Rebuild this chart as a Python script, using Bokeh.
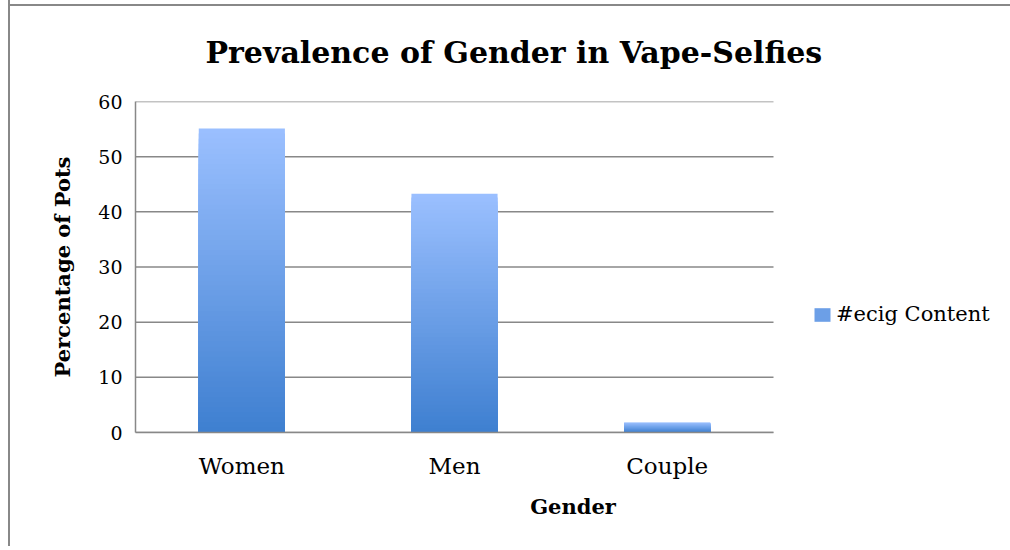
from bokeh.plotting import figure
from bokeh.models import ColumnDataSource, Legend, LegendItem, Range1d, FixedTicker
from bokeh.embed import file_html
from bokeh.resources import INLINE

# ---- data ----
categories = ["Women", "Men", "Couple"]
ecig_content = [55.1, 43.3, 1.8]
y_ticks = [0, 10, 20, 30, 40, 50, 60]
series_name = "#ecig Content"
title_text = "Prevalence of Gender in Vape-Selfies"
x_title = "Gender"
y_title = "Percentage of Pots"

SERIF = "DejaVu Serif"
GRID = "#888888"
TOP_RGB = (155, 192, 255)
BOT_RGB = (62, 127, 208)

def mix(t):
    r = [round(b + (a - b) * t) for a, b in zip(TOP_RGB, BOT_RGB)]
    return "#%02x%02x%02x" % tuple(r)

n_cat = len(categories)
xpos = [i + 0.5 for i in range(n_cat)]          # category centres
PLOT_W = 638                                     # px for the category area
FRAME_W = 875                                    # frame extends under the legend
x_end = n_cat * FRAME_W / PLOT_W

# gradient bars: nested segments from 0 up to fractions of each value
N = 60
xs, tops, colors = [], [], []
for i in range(N - 1, -1, -1):
    frac = (i + 1) / N
    col = mix((i + 0.5) / N)
    for x, v in zip(xpos, ecig_content):
        xs.append(x)
        tops.append(v * frac)
        colors.append(col)
src = ColumnDataSource(dict(x=xs, top=tops, color=colors))

p = figure(x_range=Range1d(0, x_end), y_range=Range1d(0, 60),
           frame_width=FRAME_W, frame_height=331,
           output_backend="svg", toolbar_location=None,
           min_border_left=125, min_border_right=0,
           min_border_top=101, min_border_bottom=114)
# outer chart border: left edge and a top line 4px below the page top
p.styles = {"margin-left": "8px",
            "border-left": "2px solid #888888",
            "background": "linear-gradient(#888888, #888888) 0 4px / 100% 2px no-repeat, white"}
p.border_fill_color = None
p.outline_line_color = None
p.background_fill_color = "white"
p.xgrid.visible = False
p.ygrid.visible = False

# horizontal gridlines across the category area only
p.segment(x0=0, x1=n_cat, y0=y_ticks, y1=y_ticks,
          line_color=GRID, line_width=1.5)

r = p.vbar(x="x", top="top", bottom=0, width=0.405, source=src,
           fill_color="color", line_color=None)

# title
p.title.text = title_text
p.title.text_font = SERIF
p.title.text_font_style = "bold"
p.title.text_font_size = "30px"
p.title.align = "left"
p.title.offset = 70
p.title.standoff = 64
p.title.text_color = "black"

# axes
p.yaxis.ticker = FixedTicker(ticks=y_ticks)
p.yaxis.bounds = (0, 60)
p.yaxis.axis_line_color = GRID
p.yaxis.axis_line_width = 1.5
p.yaxis.major_tick_line_color = None
p.yaxis.minor_tick_line_color = None
p.yaxis.major_label_standoff = 7
p.yaxis.major_label_text_font = SERIF
p.yaxis.major_label_text_font_size = "19px"
p.yaxis.major_label_text_color = "black"
p.yaxis.axis_label = y_title
p.yaxis.axis_label_text_font = SERIF
p.yaxis.axis_label_text_font_style = "bold"
p.yaxis.axis_label_text_font_size = "21px"
p.yaxis.axis_label_text_color = "black"
p.yaxis.axis_label_standoff = 20

p.xaxis.ticker = FixedTicker(ticks=xpos)
p.xaxis.major_label_overrides = {x: c for x, c in zip(xpos, categories)}
p.xaxis.bounds = (0, n_cat)
p.xaxis.axis_line_color = GRID
p.xaxis.axis_line_width = 1.5
p.xaxis.major_tick_line_color = None
p.xaxis.minor_tick_line_color = None
p.xaxis.major_label_standoff = 14
p.xaxis.major_label_text_font = SERIF
p.xaxis.major_label_text_font_size = "23px"
p.xaxis.major_label_text_color = "black"
p.xaxis.axis_label = x_title
p.xaxis.axis_label_text_font = SERIF
p.xaxis.axis_label_text_font_style = "bold"
p.xaxis.axis_label_text_font_size = "21px"
p.xaxis.axis_label_text_color = "black"
p.xaxis.axis_label_standoff = 12

legend = Legend(items=[LegendItem(label=series_name, renderers=[r], index=N // 2 * 3)],
                location=(677, 106), padding=0, margin=0,
                border_line_color=None, background_fill_alpha=0,
                glyph_width=20, glyph_height=17, label_standoff=4,
                label_text_font=SERIF, label_text_font_size="21px",
                label_text_color="black")
p.add_layout(legend, "center")

open("out.html", "w").write(file_html(p, INLINE))
